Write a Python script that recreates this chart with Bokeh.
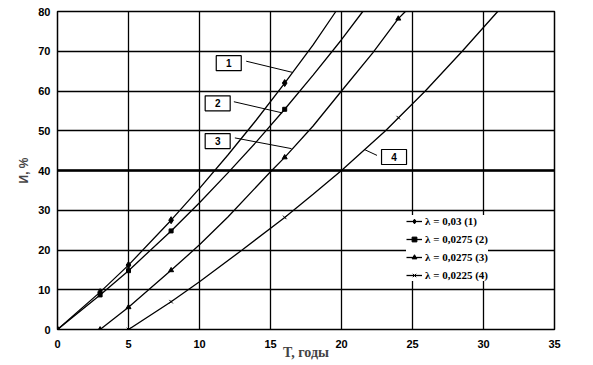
from bokeh.plotting import figure
from bokeh.models import Range1d, FixedTicker, Span, Legend, LegendItem
from bokeh.core.properties import value
from bokeh.embed import file_html
from bokeh.resources import INLINE

# ---- data ----
x_ticks = [0, 5, 10, 15, 20, 25, 30, 35]
y_ticks = [0, 10, 20, 30, 40, 50, 60, 70, 80]

# curve 1: lambda = 0.03
c1_T = [0, 3, 5, 8, 10, 12, 14, 16, 18, 19.6]
c1_I = [0, 9.4, 16.2, 27.5, 35.5, 43.9, 52.7, 62, 71.6, 80]
c1_mT = [0, 3, 5, 8, 16]
c1_mI = [0, 9.4, 16.2, 27.5, 62]

# curve 2: lambda = 0.0275
c2_T = [0, 3, 5, 8, 10, 12, 14, 16, 18, 20, 21.5]
c2_I = [0, 8.7, 14.8, 24.8, 31.9, 39.4, 47.2, 55.4, 64, 72.9, 80]
c2_mT = [0, 3, 5, 8, 16]
c2_mI = [0, 8.7, 14.8, 24.8, 55.4]

# curve 3: lambda = 0.0275 (start at 3)
c3_T = [3, 5, 8, 10, 12, 15, 16, 18, 20, 22.2, 24, 24.5]
c3_I = [0, 5.6, 14.9, 21.3, 28.3, 39.7, 43.3, 51.2, 60, 69.6, 78.2, 80]
c3_mT = [3, 5, 8, 16, 24]
c3_mI = [0, 5.6, 14.9, 43.3, 78.2]

# curve 4: lambda = 0.0225
c4_T = [5, 8, 10, 13, 16, 18, 20, 23.1, 25.9, 28.5, 31]
c4_I = [0, 7, 12, 20, 28.2, 34, 40, 50, 60, 70, 80]
c4_mT = [5, 8, 16, 24]
c4_mI = [0, 7, 28.2, 53.3]

legend_labels = ["λ = 0,03 (1)", "λ = 0,0275 (2)", "λ = 0,0275 (3)", "λ = 0,0225 (4)"]

# callout boxes
box_labels = ["1", "2", "3", "4"]
box_x = [12.06, 11.28, 11.28, 23.7]
box_y = [67.0, 56.9, 47.4, 43.4]
lead_x0 = [13.29, 12.42, 12.49, 22.5]
lead_y0 = [67.5, 57.3, 48.2, 43.8]
lead_x1 = [16.53, 15.82, 16.48, 21.6]
lead_y1 = [64.7, 54.5, 45.5, 45.3]

# ---- figure ----
p = figure(width=593, height=365, x_range=Range1d(0, 35), y_range=Range1d(0, 80),
           output_backend="svg", toolbar_location=None,
           min_border_left=57, min_border_right=39, min_border_top=11, min_border_bottom=36)
p.background_fill_color = "white"
p.border_fill_color = "white"
p.outline_line_color = "black"
p.outline_line_width = 1.5

for ax in (p.xaxis, p.yaxis):
    ax.axis_line_color = None
    ax.major_tick_out = 0
    ax.major_tick_in = 0
    ax.minor_tick_out = 0
    ax.minor_tick_in = 0
    ax.major_label_text_font = "Liberation Sans"
    ax.major_label_text_font_style = "bold"
    ax.major_label_text_font_size = "11px"
    ax.major_label_text_color = "black"

p.xaxis.ticker = FixedTicker(ticks=x_ticks)
p.yaxis.ticker = FixedTicker(ticks=y_ticks)
p.xaxis.major_label_standoff = 10
p.yaxis.major_label_standoff = 7

p.xaxis.axis_label = "T, годы"
p.xaxis.axis_label_text_font = "Liberation Serif"
p.xaxis.axis_label_text_font_style = "bold"
p.xaxis.axis_label_text_font_size = "14px"
p.xaxis.axis_label_standoff = -6

p.yaxis.axis_label = "И, %"
p.yaxis.axis_label_text_font = "Liberation Sans"
p.yaxis.axis_label_text_font_style = "bold"
p.yaxis.axis_label_text_font_size = "12px"
p.yaxis.axis_label_standoff = 4

p.xgrid.grid_line_color = "black"
p.ygrid.grid_line_color = "black"
p.xgrid.grid_line_width = 1.3
p.ygrid.grid_line_width = 1.3
p.xgrid.grid_line_alpha = 1
p.ygrid.grid_line_alpha = 1

p.add_layout(Span(location=40, dimension="width", line_color="black", line_width=2.6))

series = [
    (c1_T, c1_I, c1_mT, c1_mI, "diamond", 7),
    (c2_T, c2_I, c2_mT, c2_mI, "square", 4),
    (c3_T, c3_I, c3_mT, c3_mI, "triangle", 5),
    (c4_T, c4_I, c4_mT, c4_mI, "x", 5),
]
items = []
for (T, I, mT, mI, mk, sz), lab in zip(series, legend_labels):
    lr = p.line(T, I, line_color="black", line_width=1.3)
    sr = p.scatter(mT, mI, marker=mk, size=sz, fill_color="black", line_color="black", line_width=1)
    items.append(LegendItem(label=lab, renderers=[lr, sr]))

p.segment(x0=lead_x0, y0=lead_y0, x1=lead_x1, y1=lead_y1, line_color="black", line_width=1)
p.rect(x=box_x, y=box_y, width=25, height=15, width_units="screen", height_units="screen",
       fill_color="white", line_color="black", line_width=1.2)
p.text(x=box_x, y=box_y, text=box_labels, text_align="center", text_baseline="middle",
       text_font=value("Liberation Sans"), text_font_style="bold", text_font_size="10px",
       text_color="black")

legend = Legend(items=items, location=(349, 48))
legend.padding = 4
legend.spacing = 6
legend.margin = 0
legend.label_height = 12
legend.glyph_height = 12
legend.glyph_width = 16
legend.label_standoff = 3
legend.border_line_color = None
legend.background_fill_color = "white"
legend.background_fill_alpha = 1
legend.label_text_font = "Liberation Serif"
legend.label_text_font_style = "bold"
legend.label_text_font_size = "11px"
legend.label_text_color = "black"
p.add_layout(legend)

open("out.html", "w").write(file_html(p, INLINE))
